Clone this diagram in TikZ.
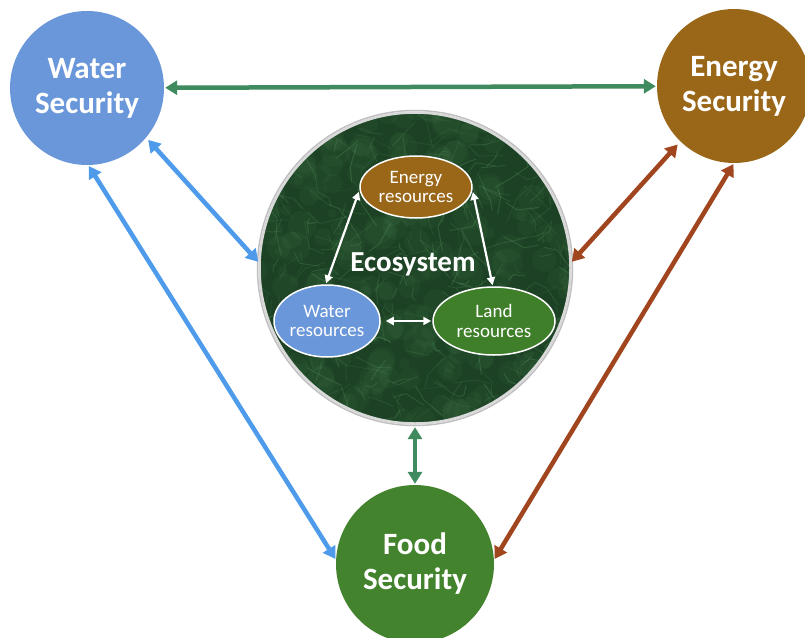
\documentclass[tikz,border=0pt]{standalone}
\usepackage{fontspec}
\setmainfont{Carlito}
\usetikzlibrary{arrows.meta,shapes.geometric}
\definecolor{wsblue}{HTML}{6A97D9}
\definecolor{esbrown}{HTML}{9A6718}
\definecolor{fsgreen}{HTML}{43832D}
\definecolor{arblue}{HTML}{4D9BEA}
\definecolor{arbrown}{HTML}{A1451E}
\definecolor{argreen}{HTML}{3F8A5E}
\definecolor{ecodark}{HTML}{1C4124}
\definecolor{ecolight}{HTML}{5E9E66}
\definecolor{ecoborder}{HTML}{D9D9D9}
\definecolor{lrgreen}{HTML}{3F7F2A}
\begin{document}
\begin{tikzpicture}[x=1pt,y=-1pt,
  bigcirc/.style={circle, inner sep=0pt, text=white, align=center,
    font=\fontsize{31}{35}\selectfont\bfseries},
  res/.style={ellipse, draw=white, line width=1.5pt, inner sep=0pt, text=white,
    align=center, font=\fontsize{19}{19.5}\selectfont},
  link/.style={line width=4.5pt, {Triangle[length=12pt,width=14pt]}-{Triangle[length=12pt,width=14pt]}},
  inlink/.style={white, line width=2.2pt, {Triangle[length=8pt,width=8pt]}-{Triangle[length=8pt,width=8pt]}}]
\useasboundingbox (0,0) rectangle (805,637);
\clip (0,0) rectangle (805,637);
\fill[white] (0,0) rectangle (805,637);

% security circles
\node[bigcirc, fill=wsblue, minimum size=154pt] (ws) at (87,88) {Water\\Security};
\node[bigcirc, fill=esbrown, minimum size=154pt] (es) at (734,86) {Energy\\Security};
\node[bigcirc, fill=fsgreen, minimum size=158pt] (fs) at (415,564) {Food\\Security};

% ecosystem circle
\draw[black!25, line width=1.5pt] (415,268) circle[radius=157.5];
\node[circle, fill=ecodark, minimum size=312pt, inner sep=0pt] (eco) at (415,268) {};
\begin{scope}
  \clip (eco.center) circle[radius=155];
  \pgfmathsetseed{42}
  \foreach \i in {1,...,260}{
    \pgfmathsetmacro{\xa}{415+(rnd-0.5)*320}
    \pgfmathsetmacro{\ya}{268+(rnd-0.5)*320}
    \pgfmathsetmacro{\ra}{4+rnd*12}
    \fill[ecolight, opacity=0.07] (\xa,\ya) circle[radius=\ra];
  }
  \foreach \i in {1,...,380}{
    \pgfmathsetmacro{\xa}{415+(rnd-0.5)*320}
    \pgfmathsetmacro{\ya}{268+(rnd-0.5)*320}
    \pgfmathsetmacro{\an}{rnd*360}
    \pgfmathsetmacro{\bn}{\an+(rnd-0.5)*120}
    \pgfmathsetmacro{\ln}{6+rnd*22}
    \pgfmathsetmacro{\op}{0.08+rnd*0.22}
    \draw[ecolight, opacity=\op, line width=1pt, line cap=round] (\xa,\ya) -- ++(\an:\ln) -- ++(\bn:\ln*0.6);
  }
\end{scope}
\draw[ecoborder, line width=2.5pt] (eco.center) circle[radius=155.5];

\node[text=white, font=\fontsize{29}{30}\selectfont\bfseries] (ecot) at (413,264) {Ecosystem};

% resource ellipses
\node[res, fill=esbrown, minimum width=112pt, minimum height=62pt] (er) at (416,187) {Energy\\resources};
\node[res, fill=wsblue, minimum width=106pt, minimum height=72pt] (wr) at (327,321) {Water\\resources};
\node[res, fill=lrgreen, minimum width=122pt, minimum height=68pt] (lr) at (494,321) {Land\\resources};

% inner arrows
\draw[inlink, shorten <=2pt, shorten >=1pt] (er.183) -- (wr.92);
\draw[inlink, shorten <=2pt, shorten >=1pt] (er.-3) -- (lr.92);
\draw[inlink, shorten <=5pt, shorten >=1pt] (wr) -- (lr);

% outer arrows
\draw[link, argreen, shorten <=1pt, shorten >=1pt] (ws) -- (es);
\draw[link, arblue, shorten <=3pt, shorten >=1pt] (ws.-40) -- (eco.178);
\draw[link, arblue, shorten <=1pt, shorten >=1pt] (ws.-89) -- (fs.177);
\draw[link, arbrown, shorten <=4pt, shorten >=1pt] (es.-134) -- (eco.2);
\draw[link, arbrown, shorten <=1pt, shorten >=1pt] (es.-90) -- (fs.3);
\draw[link, argreen, shorten <=3pt, shorten >=1pt] (eco.south) -- (fs.north);
\end{tikzpicture}
\end{document}
